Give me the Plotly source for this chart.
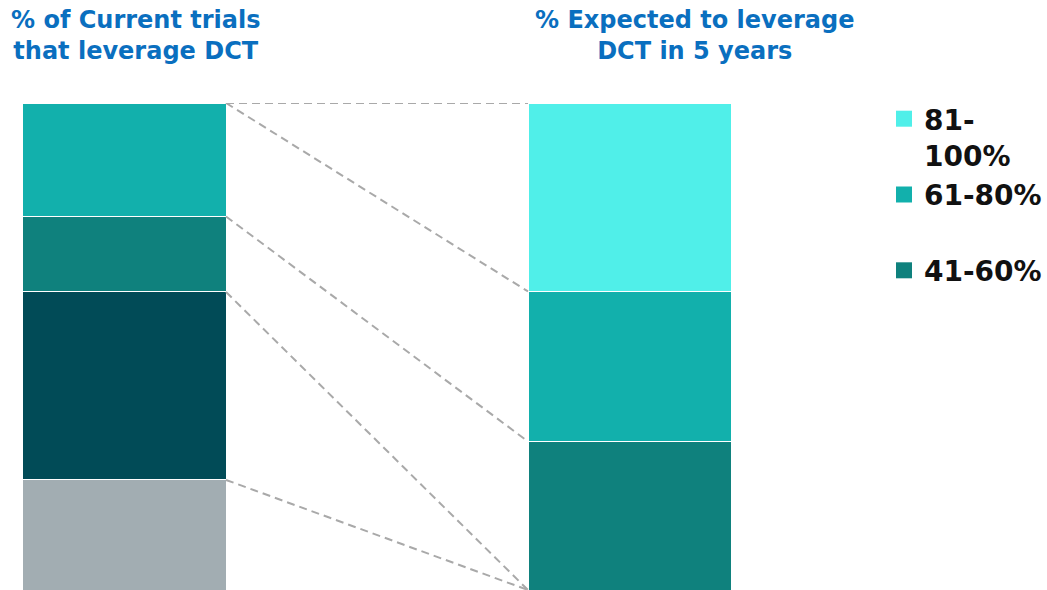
import numpy as np
import plotly.graph_objects as go

# ---- data ----
bar_labels = ["Current", "In 5 years"]
categories = ["0-20%", "21-40%", "41-60%", "61-80%", "81-100%"]
current_vals = [22.6, 38.6, 15.5, 23.3, 0.0]
future_vals = [0.0, 0.0, 30.5, 30.8, 38.7]
colors = ["#A2ADB2", "#014B57", "#0F817D", "#12B0AC", "#50EFE9"]
in_legend = [False, False, True, True, True]
legend_names = ["0-20%", "21-40%", "41-60%<br> ", "61-80%<br> ", "81-<br>100%"]
titles = ["% of Current trials<br>that leverage DCT", "% Expected to leverage<br>DCT in 5 years"]
# connector lines: (cumulative level on left bar, cumulative level on right bar)
connectors = [(100.0, 100.0), (100.0, 61.3), (76.7, 30.5), (61.2, 0.0), (22.6, 0.0)]

BAR_W = 0.402
xpos = [0, 1]

fig = go.Figure()
for i, cat in enumerate(categories):
    fig.add_trace(go.Bar(
        x=xpos, y=[current_vals[i], future_vals[i]],
        name=cat, width=BAR_W,
        marker=dict(color=colors[i], line=dict(color="#FFFFFF", width=1)),
        showlegend=False, hoverinfo="skip",
    ))

for (yl, yr) in connectors:
    fig.add_trace(go.Scatter(
        x=[xpos[0] + BAR_W / 2, xpos[1] - BAR_W / 2], y=[yl, yr],
        mode="lines", line=dict(color="#A9A9A9", width=2, dash="8px,5px"),
        showlegend=False, hoverinfo="skip",
    ))

# legend entries (square swatches matching the bar colours)
for i, cat in enumerate(categories):
    if in_legend[i]:
        fig.add_trace(go.Scatter(
            x=[None], y=[None], mode="markers", name=legend_names[i],
            marker=dict(symbol="square", size=16, color=colors[i]),
            showlegend=True, hoverinfo="skip",
        ))

title_x = [0.179, 0.914]
for t, tx in zip(titles, title_x):
    fig.add_annotation(
        text=t, x=tx, y=1.1376, xref="paper", yref="paper",
        xanchor="center", yanchor="middle", showarrow=False,
        font=dict(family="DejaVu Sans", size=24, color="#0A6FBF", weight="bold"),
    )

fig.update_layout(
    width=1047, height=590,
    margin=dict(l=0, r=287, t=103, b=0),
    barmode="stack",
    plot_bgcolor="white", paper_bgcolor="white",
    xaxis=dict(range=[-0.2465, 1.2584], visible=False, fixedrange=True),
    yaxis=dict(range=[0, 100], visible=False, fixedrange=True),
    legend=dict(
        traceorder="reversed", valign="top",
        xref="container", yref="container",
        x=884 / 1047, y=1 - 94 / 590, xanchor="left", yanchor="top",
        font=dict(family="DejaVu Sans", size=28, color="#111111", weight="bold"),
        itemclick=False, itemdoubleclick=False,
    ),
    showlegend=True,
)

fig.write_html("out.html")
